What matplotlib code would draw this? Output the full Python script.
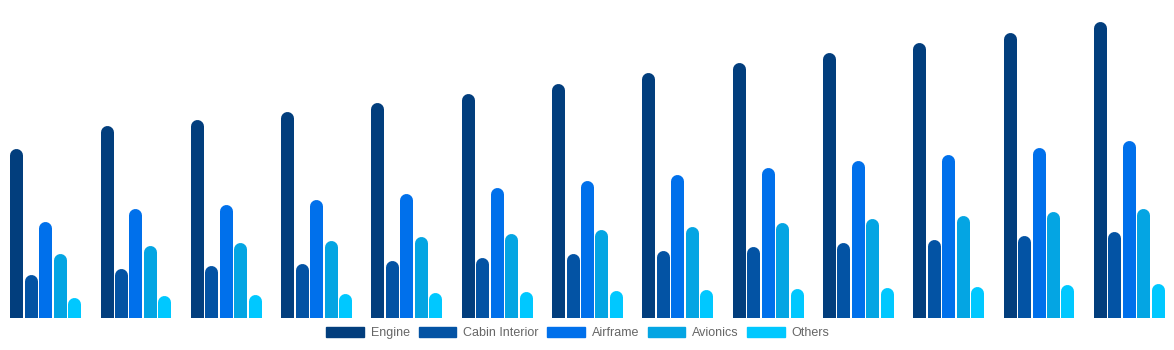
import numpy as np
import matplotlib.pyplot as plt
from matplotlib.transforms import ScaledTranslation

plt.rcParams['font.family'] = ['Liberation Sans', 'DejaVu Sans']

series = ["Engine", "Cabin Interior", "Airframe", "Avionics", "Others"]
colors = ["#023e7d", "#0353a4", "#0070eb", "#04a5e3", "#00c8ff"]

engine = [170, 193, 199, 207, 216, 225, 235, 246, 256, 266, 276, 286, 297]
cabin_interior = [44, 50, 53, 55, 58, 61, 65, 68, 72, 76, 79, 83, 87]
airframe = [97, 110, 114, 119, 125, 131, 138, 144, 151, 158, 164, 171, 178]
avionics = [65, 73, 76, 78, 82, 85, 89, 92, 96, 100, 103, 107, 110]
others = [21, 23, 24, 25, 26, 27, 28, 29, 30, 31, 32, 34, 35]

values = [engine, cabin_interior, airframe, avionics, others]
groups = np.arange(len(engine))

W, H, dpi = 11.74, 3.5, 100
fig = plt.figure(figsize=(W, H), dpi=dpi)
ax = fig.add_axes([0, 32 / 350, 1, 308 / 350])
ax.set_xlim(-0.5, 12.5)
ax.set_ylim(0, 308)
ax.axis("off")

bar_px = 13
lw = bar_px * 72 / dpi
step = 0.16
# pull the line end down by the cap radius so the rounded top sits at the value
cap = ScaledTranslation(0, -bar_px / 2 / dpi, fig.dpi_scale_trans)

for i, (name, vals, c) in enumerate(zip(series, values, colors)):
    x = groups + (i - 2) * step
    ax.vlines(x, -20, vals, colors=c, linewidth=lw, capstyle="round",
              transform=ax.transData + cap, label=name)

handles = [plt.Rectangle((0, 0), 1, 1, color=c) for c in colors]
fig.legend(handles, series, loc="center", bbox_to_anchor=(578 / 1174, 1 - 333 / 350),
           ncol=5, frameon=False, fontsize=9, labelcolor="#666666",
           handlelength=3.0, handleheight=0.95, handletextpad=0.55,
           columnspacing=0.7)

fig.savefig("out.png", dpi=dpi)
